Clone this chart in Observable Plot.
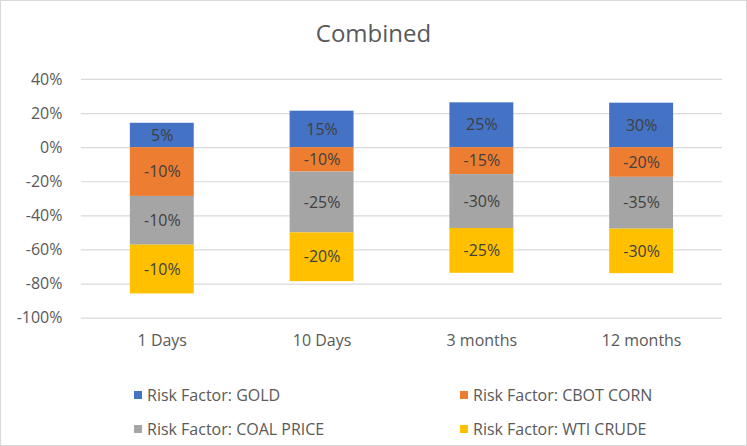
<!DOCTYPE html>
<html>
<head>
<meta charset="utf-8">
<script src="https://cdn.jsdelivr.net/npm/d3@7"></script>
<script src="https://cdn.jsdelivr.net/npm/@observablehq/plot@0.6"></script>
<style>
  html, body { margin: 0; padding: 0; background: #fff; }
  #wrap { position: relative; width: 745px; height: 444px; border: 1px solid #d9d9d9; background: #fff; font-family: "Open Sans", "Liberation Sans", Arial, sans-serif; overflow: hidden; }
  #title { position: absolute; left: 0; width: 745px; top: 20px; line-height: 24px; text-align: center; font-size: 24px; color: #595959; }
  #chart { position: absolute; left: -1px; top: 58px; }
  .leg { position: absolute; font-size: 16px; line-height: 20px; color: #595959; display: flex; align-items: center; white-space: nowrap; }
  .leg span.sw { display: inline-block; width: 8px; height: 8px; margin-right: 5px; }
</style>
</head>
<body>
<div id="wrap">
  <div id="title">Combined</div>
  <div id="chart"></div>
  <div id="legend"></div>
</div>
<script>
const categories = ["1 Days", "10 Days", "3 months", "12 months"];
const seriesNames = ["Risk Factor: GOLD", "Risk Factor: CBOT CORN", "Risk Factor: COAL PRICE", "Risk Factor: WTI CRUDE"];
const colors = ["#4472C4", "#ED7D31", "#A5A5A5", "#FFC000"];
// bar heights (percent)
const gold = [14.3, 21.4, 26.3, 26.1];
const corn = [-28.6, -14.3, -15.8, -17.4];
const coal = [-28.6, -35.7, -31.6, -30.4];
const wti  = [-28.6, -28.6, -26.3, -26.1];
// data labels shown in the bars
const goldLabels = ["5%", "15%", "25%", "30%"];
const cornLabels = ["-10%", "-10%", "-15%", "-20%"];
const coalLabels = ["-10%", "-25%", "-30%", "-35%"];
const wtiLabels  = ["-10%", "-20%", "-25%", "-30%"];
const yTicks = [-100, -80, -60, -40, -20, 0, 20, 40];

const seriesValues = [gold, corn, coal, wti];
const seriesLabels = [goldLabels, cornLabels, coalLabels, wtiLabels];
const data = [];
categories.forEach((c, i) => {
  seriesNames.forEach((s, j) => {
    data.push({cat: c, series: s, value: seriesValues[j][i], label: seriesLabels[j][i]});
  });
});

const chart = Plot.plot({
  width: 747,
  height: 300,
  marginLeft: 81,
  marginRight: 24,
  marginTop: 20,
  marginBottom: 41,
  style: {fontFamily: "Open Sans, Liberation Sans, Arial, sans-serif", fontSize: "16px", color: "#595959", background: "transparent"},
  x: {domain: categories, label: null, paddingInner: 0.6, paddingOuter: 0.3, tickSize: 0, tickPadding: 17},
  y: {domain: [-100, 40], ticks: yTicks, tickFormat: d => d + "%", label: null, tickSize: 0, tickPadding: 19},
  color: {domain: seriesNames, range: colors},
  marks: [
    Plot.ruleY(yTicks, {stroke: "#d9d9d9", strokeWidth: 1.2}),
    Plot.barY(data, {x: "cat", y: "value", fill: "series", order: seriesNames}),
    Plot.text(data, Plot.stackY({x: "cat", y: "value", z: "series", order: seriesNames, text: "label", fill: "#404040", fontSize: 16}))
  ]
});
document.getElementById("chart").appendChild(chart);

const legend = document.getElementById("legend");
const legPos = [[133, 395], [459, 395], [133, 429], [459, 429]];
seriesNames.forEach((s, j) => {
  const d = document.createElement("div");
  d.className = "leg";
  d.style.left = legPos[j][0] + "px";
  d.style.top = (legPos[j][1] - 11) + "px";
  d.style.height = "20px";
  d.innerHTML = `<span class="sw" style="background:${colors[j]}"></span>${s}`;
  legend.appendChild(d);
});
</script>
</body>
</html>
